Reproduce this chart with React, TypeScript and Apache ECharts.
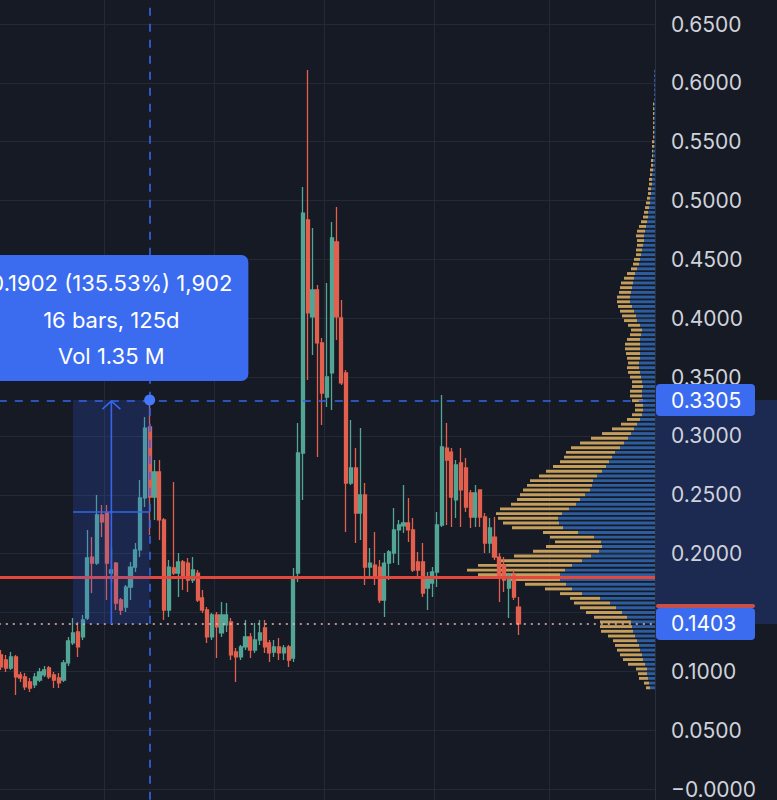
import React, { useEffect, useRef } from 'react';
import * as echarts from 'echarts';

// ---- candles (price, one entry per bar) ----
const opens = [
  0.1139, 0.1096, 0.1028, 0.1122, 0.0969, 0.0952, 0.0909, 0.0884, 0.0926, 0.0969,
  0.1028, 0.0969, 0.0943, 0.0926, 0.1071, 0.1241, 0.1334, 0.1292, 0.1453, 0.1971,
  0.1920, 0.2328, 0.2345, 0.1835, 0.1920, 0.1606, 0.1546, 0.1716, 0.1886, 0.2031,
  0.2473, 0.3076, 0.2481, 0.2694, 0.2286, 0.1521, 0.1878, 0.1835, 0.1929, 0.1920,
  0.1776, 0.1835, 0.1623, 0.1521, 0.1292, 0.1479, 0.1326, 0.1394, 0.1419, 0.1164,
  0.1122, 0.1207, 0.1292, 0.1181, 0.1266, 0.1368, 0.1241, 0.1164, 0.1207, 0.1156,
  0.1207, 0.1113, 0.1835, 0.2855, 0.4835, 0.4011, 0.4240, 0.3790, 0.3331, 0.3535,
  0.4648, 0.4002, 0.3535, 0.2600, 0.2728, 0.2345, 0.2498, 0.1886, 0.1903, 0.1886,
  0.1606, 0.1920, 0.2005, 0.2201, 0.2235, 0.2260, 0.2201, 0.1929, 0.1929, 0.1708,
  0.1750, 0.1844, 0.2243, 0.2897, 0.2863, 0.2456, 0.2770, 0.2728, 0.2515, 0.2311,
  0.2541, 0.2311, 0.2090, 0.2141, 0.1971, 0.1903, 0.1708, 0.1818, 0.1546,
];
const closes = [
  0.1037, 0.1028, 0.1122, 0.0952, 0.0943, 0.0867, 0.0858, 0.0952, 0.0994, 0.1011,
  0.0952, 0.0926, 0.0901, 0.1071, 0.1258, 0.1326, 0.1207, 0.1436, 0.1963, 0.1920,
  0.2328, 0.2269, 0.1920, 0.1861, 0.1580, 0.1521, 0.1716, 0.1886, 0.2031, 0.2473,
  0.3067, 0.2481, 0.2694, 0.2286, 0.1521, 0.1886, 0.1835, 0.1929, 0.1801, 0.1776,
  0.1861, 0.1606, 0.1521, 0.1292, 0.1479, 0.1377, 0.1479, 0.1479, 0.1139, 0.1122,
  0.1207, 0.1292, 0.1181, 0.1266, 0.1326, 0.1207, 0.1156, 0.1207, 0.1156, 0.1198,
  0.1096, 0.1801, 0.2855, 0.4894, 0.4045, 0.4240, 0.3790, 0.3365, 0.3501, 0.4682,
  0.4011, 0.3450, 0.2600, 0.2728, 0.2345, 0.2498, 0.1886, 0.1920, 0.1801, 0.1606,
  0.1920, 0.2014, 0.2201, 0.2243, 0.2260, 0.2201, 0.1861, 0.1861, 0.1665, 0.1793,
  0.1844, 0.2243, 0.2906, 0.2795, 0.2481, 0.2753, 0.2541, 0.2396, 0.2311, 0.2515,
  0.2311, 0.2090, 0.2218, 0.1971, 0.1801, 0.1776, 0.1818, 0.1631, 0.1403,
];
const highs = [
  0.1181, 0.1139, 0.1164, 0.1139, 0.0994, 0.0986, 0.0943, 0.0986, 0.1028, 0.1045,
  0.1045, 0.0994, 0.0986, 0.1096, 0.1292, 0.1453, 0.1419, 0.1479, 0.2201, 0.2141,
  0.2498, 0.2413, 0.2413, 0.2048, 0.1929, 0.1623, 0.1733, 0.1929, 0.2090, 0.2626,
  0.3161, 0.3305, 0.2795, 0.2795, 0.2303, 0.1946, 0.2608, 0.2005, 0.1946, 0.1963,
  0.1971, 0.1861, 0.1691, 0.1546, 0.1495, 0.1504, 0.1589, 0.1580, 0.1453, 0.1198,
  0.1224, 0.1436, 0.1326, 0.1410, 0.1436, 0.1436, 0.1266, 0.1266, 0.1283, 0.1224,
  0.1224, 0.1878, 0.3110, 0.5115, 0.6109, 0.4767, 0.4282, 0.3832, 0.4299, 0.4818,
  0.4945, 0.4155, 0.3560, 0.3135, 0.2897, 0.3067, 0.2600, 0.2048, 0.2184, 0.1946,
  0.2005, 0.2031, 0.2388, 0.2286, 0.2583, 0.2473, 0.2303, 0.2014, 0.2090, 0.1844,
  0.1886, 0.2354, 0.3348, 0.3110, 0.2897, 0.2795, 0.2897, 0.2812, 0.2541, 0.2583,
  0.2541, 0.2345, 0.2303, 0.2311, 0.2005, 0.1971, 0.1835, 0.1861, 0.1631,
];
const lows = [
  0.1011, 0.0994, 0.1011, 0.0799, 0.0909, 0.0841, 0.0824, 0.0858, 0.0909, 0.0952,
  0.0935, 0.0858, 0.0858, 0.0909, 0.1045, 0.1224, 0.1122, 0.1266, 0.1436, 0.1665,
  0.1903, 0.2141, 0.1606, 0.1750, 0.1521, 0.1479, 0.1504, 0.1606, 0.1844, 0.1971,
  0.2396, 0.2158, 0.2286, 0.2116, 0.1436, 0.1461, 0.1818, 0.1631, 0.1691, 0.1674,
  0.1750, 0.1589, 0.1495, 0.1241, 0.1266, 0.1113, 0.1292, 0.1334, 0.1096, 0.0909,
  0.1096, 0.1181, 0.1113, 0.1156, 0.1224, 0.1156, 0.1079, 0.1122, 0.1096, 0.1096,
  0.1037, 0.1079, 0.1759, 0.2456, 0.3475, 0.3688, 0.2821, 0.3093, 0.3246, 0.3220,
  0.3815, 0.3433, 0.2184, 0.2583, 0.2090, 0.2116, 0.1733, 0.1801, 0.1733, 0.1580,
  0.1461, 0.1776, 0.1920, 0.1903, 0.2175, 0.2099, 0.1844, 0.1801, 0.1631, 0.1521,
  0.1631, 0.1716, 0.2226, 0.2243, 0.2226, 0.2303, 0.2226, 0.2354, 0.2218, 0.2226,
  0.2226, 0.2005, 0.2005, 0.1946, 0.1589, 0.1674, 0.1453, 0.1606, 0.1309,
];
const totalBarSlots = 137;
const monthStartBars = [22, 45, 68, 91, 115];

// ---- volume profile (rows of 0.004 from 0.084 upward), volume in K ----
const profileStart = 0.084;
const profileStep = 0.004;
const profileUp = [
  5, 6, 7, 8, 8, 10, 12, 13, 15, 16,
  18, 20, 22, 23, 24, 28, 33, 39, 45, 55,
  73, 83, 89, 95, 95, 90, 83, 73, 64, 56,
  53, 54, 61, 77, 92, 96, 97, 93, 86, 79,
  75, 70, 65, 63, 62, 58, 53, 49, 46, 43,
  40, 35, 31, 27, 24, 21, 18, 15, 13, 12,
  12, 12, 13, 13, 12, 13, 14, 15, 16, 16,
  15, 15, 15, 15, 15, 14, 13, 15, 18, 19,
  21, 23, 25, 25, 24, 23, 22, 21, 20, 18,
  16, 15, 14, 13, 12, 11, 11, 10, 9, 8,
  7, 7, 6, 5, 5, 4, 4, 3, 3, 3,
  2, 2, 2, 2, 2, 1, 1, 1, 1, 1,
  1, 1, 1, 1, 1, 1, 1, 1, 1, 1,
  1, 1,
];
const profileDown = [
  4, 5, 9, 9, 11, 17, 20, 22, 23, 24,
  24, 27, 32, 32, 31, 33, 36, 36, 36, 30,
  22, 27, 41, 50, 82, 98, 94, 84, 77, 66,
  56, 46, 44, 35, 51, 56, 60, 66, 69, 65,
  63, 65, 67, 65, 63, 58, 56, 53, 49, 48,
  49, 49, 44, 37, 29, 22, 16, 13, 10, 8,
  8, 11, 12, 12, 11, 10, 11, 12, 12, 11,
  13, 14, 15, 15, 13, 11, 11, 12, 13, 14,
  14, 14, 13, 13, 12, 12, 12, 10, 8, 6,
  6, 6, 5, 6, 6, 7, 8, 8, 7, 6,
  5, 4, 4, 4, 3, 3, 3, 3, 3, 2,
  3, 2, 2, 1, 1, 2, 2, 1, 1, 1,
  1, 1, 1, 1, 1, 0, 0, 0, 0, 0,
  0, 0,
];

// ---- levels / measurement ----
const redLevel = 0.1835;
const lastPrice = 0.1403;
const measureLow = 0.1403;
const measureHigh = 0.3305;
const measureStartBar = 15;
const measureEndBar = 31;
const measureLines = ['0.1902 (135.53%) 1,902', '16 bars, 125d', 'Vol 1.35 M'];
const priceLabels = ['0.3305', '0.1403'];

const UP = '#53a594';
const DOWN = '#e3604e';
const BLUE = '#3b6cf0';
const BG = '#161a25';
const GRIDC = '#252935';

export default function App() {
  const ref = useRef<HTMLDivElement>(null);

  useEffect(() => {
    const el = ref.current!;
    const chart = echarts.init(el, null, { renderer: 'svg', width: 777, height: 800 });
    const barLabels = Array.from({ length: totalBarSlots }, (_, i) => String(i + 1));
    const candleData = opens.map((o, i) => [o, closes[i], lows[i], highs[i]]);
    const profileData = profileUp.map((u, k) => [
      profileStart + profileStep * (k + 0.5),
      u,
      profileDown[k],
    ]);
    const monthSet = new Set(monthStartBars);
    const top = -34.83;
    const height = 882.68;

    const option: any = {
      animation: false,
      backgroundColor: BG,
      grid: [
        { left: -1.2, width: 656.2, top, height, outerBoundsMode: 'none', containLabel: false },
        { left: 255, width: 400, top, height, outerBoundsMode: 'none', containLabel: false },
      ],
      xAxis: [
        {
          type: 'category',
          gridIndex: 0,
          data: barLabels,
          boundaryGap: true,
          axisLine: { show: false },
          axisTick: { show: false },
          axisLabel: { show: false },
          splitLine: {
            show: true,
            interval: (i: number) => monthSet.has(i),
            lineStyle: { color: GRIDC, width: 1 },
          },
        },
        { type: 'value', gridIndex: 1, inverse: true, min: 0, max: 400, show: false },
      ],
      yAxis: [
        {
          type: 'value',
          gridIndex: 0,
          position: 'right',
          min: -0.05,
          max: 0.7,
          interval: 0.05,
          axisLine: { show: true, lineStyle: { color: '#2b2f3b', width: 1 } },
          axisTick: { show: false },
          splitLine: { show: true, lineStyle: { color: GRIDC, width: 1 } },
          axisLabel: {
            color: '#cfd2da',
            fontSize: 21,
            fontFamily: 'Inter',
            margin: 16,
            showMinLabel: false,
            showMaxLabel: false,
            formatter: (v: number) => (Math.abs(v) < 1e-9 ? '\u22120.0000' : v.toFixed(4)),
          },
        },
        { type: 'value', gridIndex: 1, min: -0.05, max: 0.7, show: false },
      ],
      series: [
        {
          type: 'custom',
          xAxisIndex: 1,
          yAxisIndex: 1,
          z: 2,
          silent: true,
          encode: { x: 1, y: 0 },
          data: profileData,
          renderItem: (params: any, api: any) => {
            const price = api.value(0);
            const up = api.value(1);
            const dn = api.value(2);
            const base = api.coord([0, price]);
            const upPt = api.coord([up, price]);
            const totPt = api.coord([up + dn, price]);
            const h = api.size([0, profileStep])[1] * 0.62;
            const children: any[] = [
              {
                type: 'rect',
                shape: { x: upPt[0], y: base[1] - h / 2, width: base[0] - upPt[0], height: h },
                style: { fill: '#2d5d9e' },
              },
            ];
            if (dn > 0) {
              children.push({
                type: 'rect',
                shape: { x: totPt[0], y: base[1] - h / 2, width: upPt[0] - totPt[0], height: h },
                style: { fill: '#c59e5b' },
              });
            }
            return { type: 'group', children };
          },
        },
        {
          type: 'candlestick',
          xAxisIndex: 0,
          yAxisIndex: 0,
          z: 3,
          barWidth: 3.6,
          data: candleData,
          itemStyle: {
            color: UP,
            color0: DOWN,
            borderColor: UP,
            borderColor0: DOWN,
            borderWidth: 1.3,
          },
          markLine: {
            silent: true,
            symbol: ['none', 'none'],
            label: { show: false },
            emphasis: { disabled: true },
            data: [
              { yAxis: lastPrice, lineStyle: { color: '#e8b9b5', width: 1.6, type: [2, 5] } },
              { yAxis: measureHigh, lineStyle: { color: '#3566e8', width: 1.6, type: [8, 8] } },
              { xAxis: measureEndBar, lineStyle: { color: '#3566e8', width: 1.6, type: [8, 8] } },
              { yAxis: redLevel, lineStyle: { color: '#e5473c', width: 3, type: 'solid' } },
            ],
          },
        },
      ],
    };
    chart.setOption(option);

    const px = (bar: number, price: number) =>
      chart.convertToPixel({ gridIndex: 0 }, [bar, price]) as number[];
    const [xs, yLow] = px(measureStartBar, measureLow);
    const [xe, yHigh] = px(measureEndBar, measureHigh);
    const midBar = (measureStartBar + measureEndBar) / 2;
    const [xa] = px(midBar, measureLow);
    const yMid = px(midBar, (measureLow + measureHigh) / 2)[1];
    const cx = (xs + xe) / 2;
    const boxW = 274;
    const boxBottom = yHigh - 19;
    const boxTop = boxBottom - 126;

    const elements: any[] = [
      {
        type: 'rect',
        z: -1,
        silent: true,
        shape: { x: 655.5, y: yHigh, width: 122, height: yLow - yHigh },
        style: { fill: '#1c2950' },
      },
      {
        type: 'rect',
        z: 50,
        silent: true,
        shape: { x: xs, y: yHigh, width: xe - xs, height: yLow - yHigh },
        style: { fill: 'rgba(48,96,240,0.2)' },
      },
      {
        type: 'line',
        z: 51,
        silent: true,
        shape: { x1: xs, y1: yMid, x2: xe, y2: yMid },
        style: { stroke: '#3566e8', lineWidth: 1.6 },
      },
      {
        type: 'line',
        z: 51,
        silent: true,
        shape: { x1: xa, y1: yLow, x2: xa, y2: yHigh + 1 },
        style: { stroke: '#3566e8', lineWidth: 1.6 },
      },
      {
        type: 'polyline',
        z: 51,
        silent: true,
        shape: { points: [[xa - 9, yHigh + 9], [xa, yHigh + 1], [xa + 9, yHigh + 9]] },
        style: { stroke: '#3566e8', lineWidth: 1.6, fill: null },
      },
      {
        type: 'circle',
        z: 52,
        silent: true,
        shape: { cx: xe, cy: yHigh, r: 5.5 },
        style: { fill: '#4677ff' },
      },
      {
        type: 'rect',
        z: 60,
        silent: true,
        shape: { x: cx - boxW / 2, y: boxTop, width: boxW, height: boxBottom - boxTop, r: 7 },
        style: { fill: BLUE },
      },
      ...measureLines.map((t, i) => ({
        type: 'text',
        z: 61,
        silent: true,
        style: {
          text: t,
          x: cx,
          y: boxTop + 28 + i * 36.5,
          fill: '#ffffff',
          fontSize: 22,
          fontFamily: 'Inter',
          align: 'center',
          verticalAlign: 'middle',
        },
      })),
      {
        type: 'rect',
        z: 60,
        silent: true,
        shape: { x: 656, y: yLow - 20, width: 99, height: 4, r: 2 },
        style: { fill: '#c9504a' },
      },
      ...[yHigh, yLow].flatMap((yy, i) => [
        {
          type: 'rect',
          z: 62,
          silent: true,
          shape: { x: 656, y: yy - 16, width: 99, height: 32, r: 4 },
          style: { fill: BLUE },
        },
        {
          type: 'text',
          z: 63,
          silent: true,
          style: {
            text: priceLabels[i],
            x: 671,
            y: yy,
            fill: '#ffffff',
            fontSize: 21,
            fontFamily: 'Inter',
            align: 'left',
            verticalAlign: 'middle',
          },
        },
      ]),
    ];
    chart.setOption({ graphic: { elements } });

    return () => chart.dispose();
  }, []);

  return (
    <div
      ref={ref}
      style={{ position: 'fixed', left: 0, top: 0, width: 777, height: 800 }}
    />
  );
}
